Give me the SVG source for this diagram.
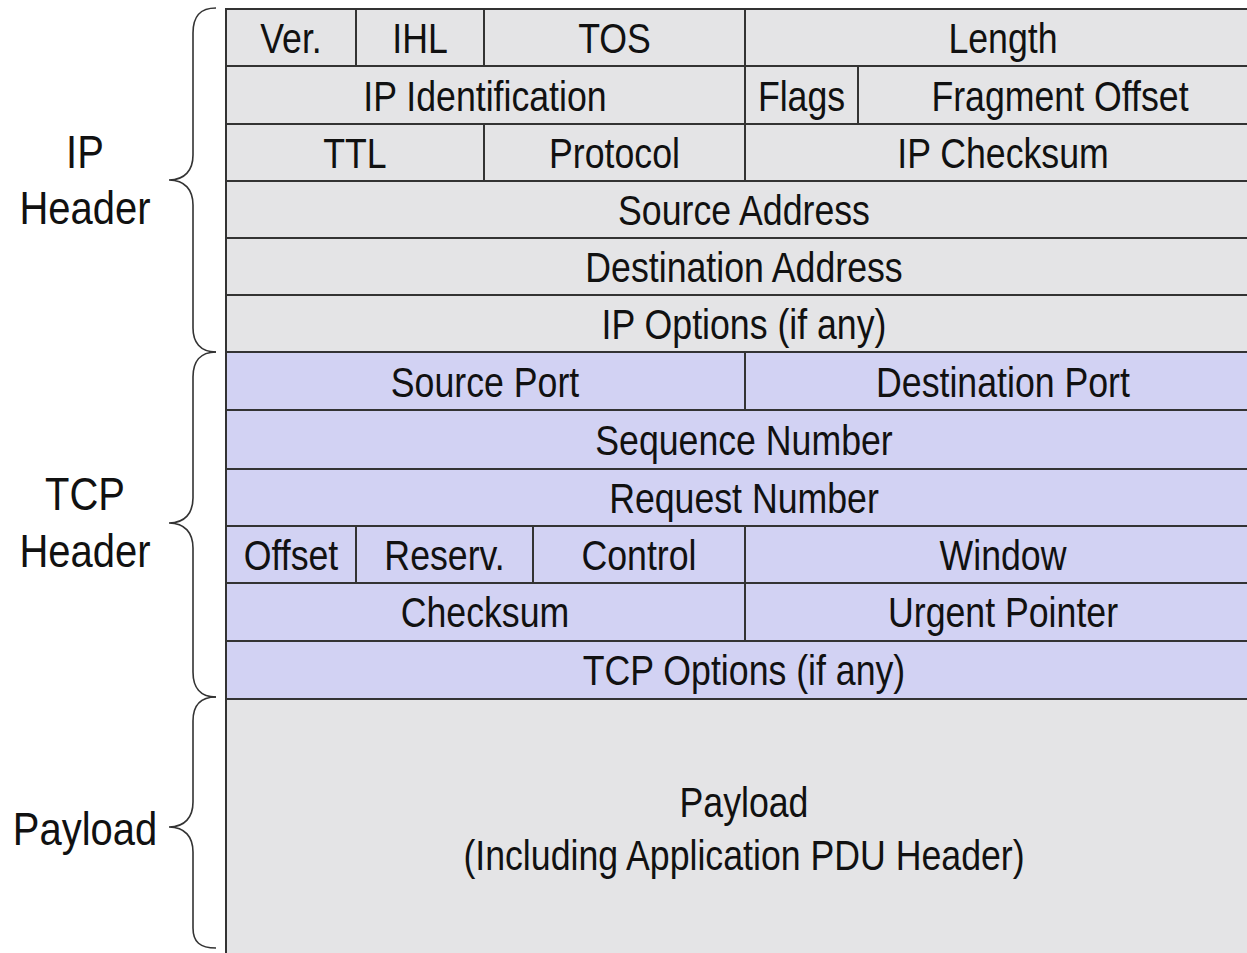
<svg xmlns="http://www.w3.org/2000/svg" width="1247" height="953" viewBox="0 0 1247 953">
<style>
.ip{fill:#e4e4e6;stroke:#333;stroke-width:2}
.tcp{fill:#d2d2f3;stroke:#333;stroke-width:2}
.pl{fill:#e4e4e6;stroke:#333;stroke-width:2}
.div{stroke:#333;stroke-width:2}
.t{font-family:"Liberation Sans",Arial,sans-serif;font-size:43px;fill:#111;text-anchor:middle}
.lab{font-family:"Liberation Sans",Arial,sans-serif;font-size:47px;fill:#111;text-anchor:middle}
.brace{fill:none;stroke:#333;stroke-width:1.6}
</style>
<rect x="0" y="0" width="1247" height="953" fill="#ffffff"/>
<g id="ip-header">
<g id="row-ip1"><rect class="ip" x="226" y="9" width="1040" height="57"/>
<line class="div" x1="356" y1="9" x2="356" y2="66"/><line class="div" x1="484" y1="9" x2="484" y2="66"/><line class="div" x1="745" y1="9" x2="745" y2="66"/>
<text class="t" transform="translate(291,53) scale(0.83,1)">Ver.</text>
<text class="t" transform="translate(420,53) scale(0.83,1)">IHL</text>
<text class="t" transform="translate(614.5,53) scale(0.83,1)">TOS</text>
<text class="t" transform="translate(1003,53) scale(0.83,1)">Length</text></g>
<g id="row-ip2"><rect class="ip" x="226" y="66" width="1040" height="58"/>
<line class="div" x1="745" y1="66" x2="745" y2="124"/><line class="div" x1="858" y1="66" x2="858" y2="124"/>
<text class="t" transform="translate(485,111) scale(0.83,1)">IP Identification</text>
<text class="t" transform="translate(801.5,111) scale(0.83,1)">Flags</text>
<text class="t" transform="translate(1060,111) scale(0.83,1)">Fragment Offset</text></g>
<g id="row-ip3"><rect class="ip" x="226" y="124" width="1040" height="57"/>
<line class="div" x1="484" y1="124" x2="484" y2="181"/><line class="div" x1="745" y1="124" x2="745" y2="181"/>
<text class="t" transform="translate(355,168) scale(0.83,1)">TTL</text>
<text class="t" transform="translate(614.5,168) scale(0.83,1)">Protocol</text>
<text class="t" transform="translate(1003,168) scale(0.83,1)">IP Checksum</text></g>
<g id="row-ip4"><rect class="ip" x="226" y="181" width="1040" height="57"/>
<text class="t" transform="translate(744,225) scale(0.83,1)">Source Address</text></g>
<g id="row-ip5"><rect class="ip" x="226" y="238" width="1040" height="57"/>
<text class="t" transform="translate(744,282) scale(0.83,1)">Destination Address</text></g>
<g id="row-ip6"><rect class="ip" x="226" y="295" width="1040" height="57"/>
<text class="t" transform="translate(744,339) scale(0.83,1)">IP Options (if any)</text></g>
</g>
<g id="tcp-header">
<g id="row-tcp1"><rect class="tcp" x="226" y="352" width="1040" height="58"/>
<line class="div" x1="745" y1="352" x2="745" y2="410"/>
<text class="t" transform="translate(485,397) scale(0.83,1)">Source Port</text>
<text class="t" transform="translate(1003,397) scale(0.83,1)">Destination Port</text></g>
<g id="row-tcp2"><rect class="tcp" x="226" y="410" width="1040" height="59"/>
<text class="t" transform="translate(744,455) scale(0.83,1)">Sequence Number</text></g>
<g id="row-tcp3"><rect class="tcp" x="226" y="469" width="1040" height="57"/>
<text class="t" transform="translate(744,513) scale(0.83,1)">Request Number</text></g>
<g id="row-tcp4"><rect class="tcp" x="226" y="526" width="1040" height="57"/>
<line class="div" x1="356" y1="526" x2="356" y2="583"/><line class="div" x1="533" y1="526" x2="533" y2="583"/><line class="div" x1="745" y1="526" x2="745" y2="583"/>
<text class="t" transform="translate(291,570) scale(0.83,1)">Offset</text>
<text class="t" transform="translate(444.5,570) scale(0.83,1)">Reserv.</text>
<text class="t" transform="translate(639,570) scale(0.83,1)">Control</text>
<text class="t" transform="translate(1003,570) scale(0.83,1)">Window</text></g>
<g id="row-tcp5"><rect class="tcp" x="226" y="583" width="1040" height="58"/>
<line class="div" x1="745" y1="583" x2="745" y2="641"/>
<text class="t" transform="translate(485,627) scale(0.83,1)">Checksum</text>
<text class="t" transform="translate(1003,627) scale(0.83,1)">Urgent Pointer</text></g>
<g id="row-tcp6"><rect class="tcp" x="226" y="641" width="1040" height="58"/>
<text class="t" transform="translate(744,685) scale(0.83,1)">TCP Options (if any)</text></g>
</g>
<g id="payload">
<rect class="pl" x="226" y="699" width="1040" height="270"/>
<text class="t" transform="translate(744,817) scale(0.83,1)">Payload</text>
<text class="t" transform="translate(744,870) scale(0.83,1)">(Including Application PDU Header)</text>
</g>
<g id="labels">
<text class="lab" transform="translate(85,168) scale(0.85,1)">IP</text>
<text class="lab" transform="translate(85,224) scale(0.85,1)">Header</text>
<text class="lab" transform="translate(85,510) scale(0.85,1)">TCP</text>
<text class="lab" transform="translate(85,567) scale(0.85,1)">Header</text>
<text class="lab" transform="translate(85,845) scale(0.85,1)">Payload</text>
</g>
<g id="connectors">
<path class="brace" d="M216,8 C200,8 193,16 193,33 L193,155 C193,170 185,180 169,180 C185,180 193,190 193,205 L193,328 C193,342 200,352 216,352"/>
<path class="brace" d="M216,352 C200,352 193,362 193,377 L193,498 C193,513 185,523 169,523 C185,523 193,533 193,548 L193,672 C193,687 200,697 216,697"/>
<path class="brace" d="M216,697 C200,697 193,706 193,721 L193,802 C193,817 185,827 169,827 C185,827 193,837 193,852 L193,928 C193,942 200,948 216,948"/>
</g>
</svg>
